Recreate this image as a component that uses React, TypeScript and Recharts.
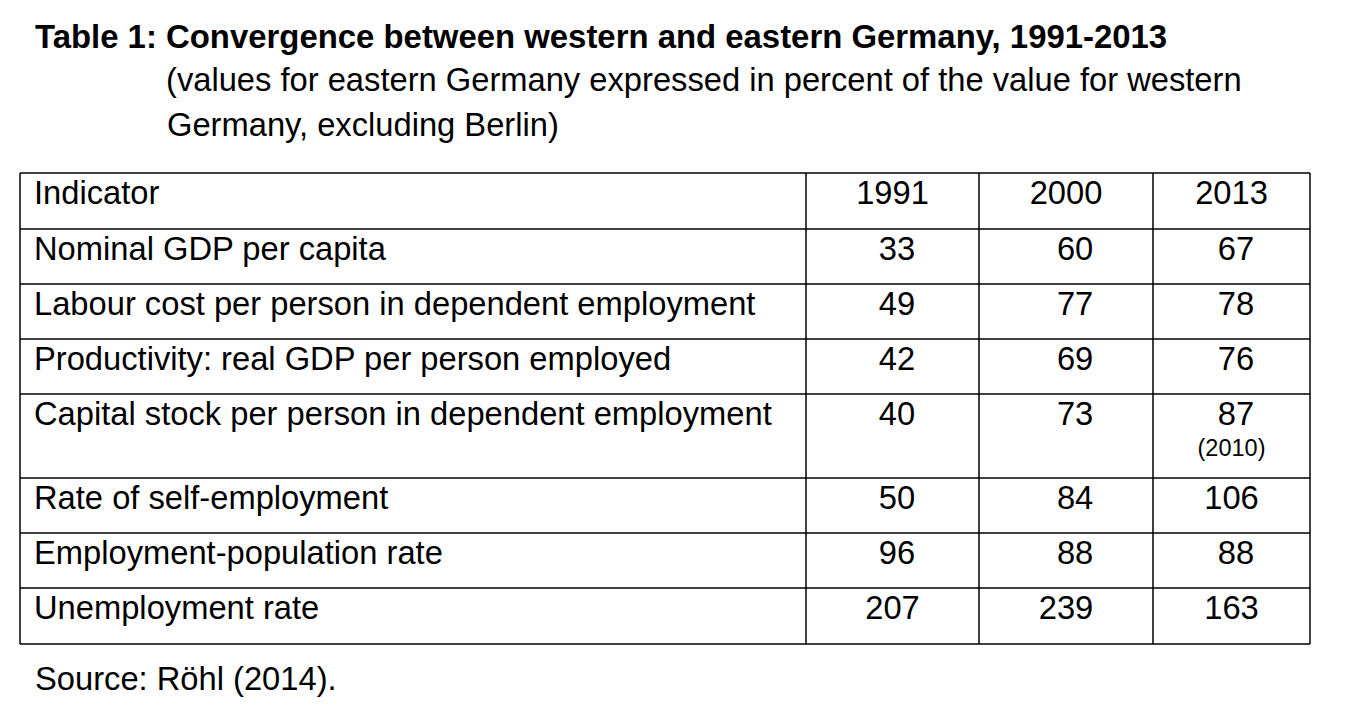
import React from 'react';
import { ScatterChart, Scatter, XAxis, YAxis, ReferenceLine } from 'recharts';

const indicators = [
  'Nominal GDP per capita',
  'Labour cost per person in dependent employment',
  'Productivity: real GDP per person employed',
  'Capital stock per person in dependent employment',
  'Rate of self-employment',
  'Employment-population rate',
  'Unemployment rate',
];
const years = ['1991', '2000', '2013'];
const values1991 = [33, 49, 42, 40, 50, 96, 207];
const values2000 = [60, 77, 69, 73, 84, 88, 239];
const values2013 = [67, 78, 76, 87, 106, 88, 163];
const notes2013 = ['', '', '', '(2010)', '', '', ''];

const FONT = '"Liberation Sans", Arial, Helvetica, sans-serif';
const FS = 32.7;

// table geometry (px): first column + three year columns, header + 7 rows
const colWidths = [786, 173, 174, 157];
const rowHeights = [56, 55, 55, 55, 84, 55, 55, 56];
// the source pads two-digit figures with spaces, shifting them right a bit
const leadSpaces = [1, 2, 1];

const colEdges = colWidths.reduce((acc, w) => [...acc, acc[acc.length - 1] + w], [0]);
const rowEdges = rowHeights.reduce((acc, h) => [...acc, acc[acc.length - 1] + h], [0]);
const tableW = colEdges[colEdges.length - 1];
const tableH = rowEdges[rowEdges.length - 1];
const colCenter = (c: number) => (colEdges[c] + colEdges[c + 1]) / 2;

type Cell = { x: number; y: number; text: string; kind: 'left' | 'num' | 'note' };

const cells: Cell[] = [];
cells.push({ x: 0, y: rowEdges[0], text: 'Indicator', kind: 'left' });
years.forEach((yr, c) => cells.push({ x: colCenter(c + 1), y: rowEdges[0], text: yr, kind: 'num' }));
indicators.forEach((name, r) => {
  cells.push({ x: 0, y: rowEdges[r + 1], text: name, kind: 'left' });
  [values1991, values2000, values2013].forEach((col, c) => {
    const v = col[r];
    const pad = v < 100 ? '\u00a0'.repeat(leadSpaces[c]) : '';
    cells.push({ x: colCenter(c + 1), y: rowEdges[r + 1], text: pad + v, kind: 'num' });
  });
  if (notes2013[r]) cells.push({ x: colCenter(3), y: rowEdges[r + 1], text: notes2013[r], kind: 'note' });
});

const CellText = (props: any) => {
  const { cx, cy, payload } = props;
  const p = payload as Cell;
  if (p.kind === 'left') {
    return (
      <text x={cx + 14} y={cy + 31} fontSize={FS} fontFamily={FONT} fill="#000">
        {p.text}
      </text>
    );
  }
  if (p.kind === 'note') {
    return (
      <text x={cx} y={cy + 62} textAnchor="middle" fontSize={23.5} fontFamily={FONT} fill="#000">
        {p.text}
      </text>
    );
  }
  return (
    <text x={cx} y={cy + 31} textAnchor="middle" fontSize={FS} fontFamily={FONT} fill="#000">
      {p.text}
    </text>
  );
};

export default function App() {
  return (
    <div style={{ position: 'absolute', left: 0, top: 0, width: 1348, height: 721, background: '#fff' }}>
      <svg width={1348} height={721} style={{ position: 'absolute', left: 0, top: 0 }}>
        <text x={35} y={48} fontSize={32.9} fontWeight="bold" fontFamily={FONT} fill="#000">
          Table 1: Convergence between western and eastern Germany, 1991-2013
        </text>
        <text x={166} y={91} fontSize={FS} fontFamily={FONT} fill="#000">
          (values for eastern Germany expressed in percent of the value for western
        </text>
        <text x={167} y={136} fontSize={FS} fontFamily={FONT} fill="#000">
          Germany, excluding Berlin)
        </text>
        <text x={35} y={690} fontSize={FS} fontFamily={FONT} fill="#000">
          Source: Röhl (2014).
        </text>
      </svg>
      <div style={{ position: 'absolute', left: 18, top: 171 }}>
        <ScatterChart
          width={tableW + 4}
          height={tableH + 4}
          margin={{ top: 2, right: 2, bottom: 2, left: 2 }}
        >
          <XAxis type="number" dataKey="x" domain={[0, tableW]} hide />
          <YAxis type="number" dataKey="y" domain={[0, tableH]} reversed hide />
          {colEdges.map((e) => (
            <ReferenceLine key={`c${e}`} x={e} stroke="#000" strokeWidth={1.5} />
          ))}
          {rowEdges.map((e) => (
            <ReferenceLine key={`r${e}`} y={e} stroke="#000" strokeWidth={1.5} />
          ))}
          <Scatter data={cells} shape={CellText} isAnimationActive={false} />
        </ScatterChart>
      </div>
    </div>
  );
}
